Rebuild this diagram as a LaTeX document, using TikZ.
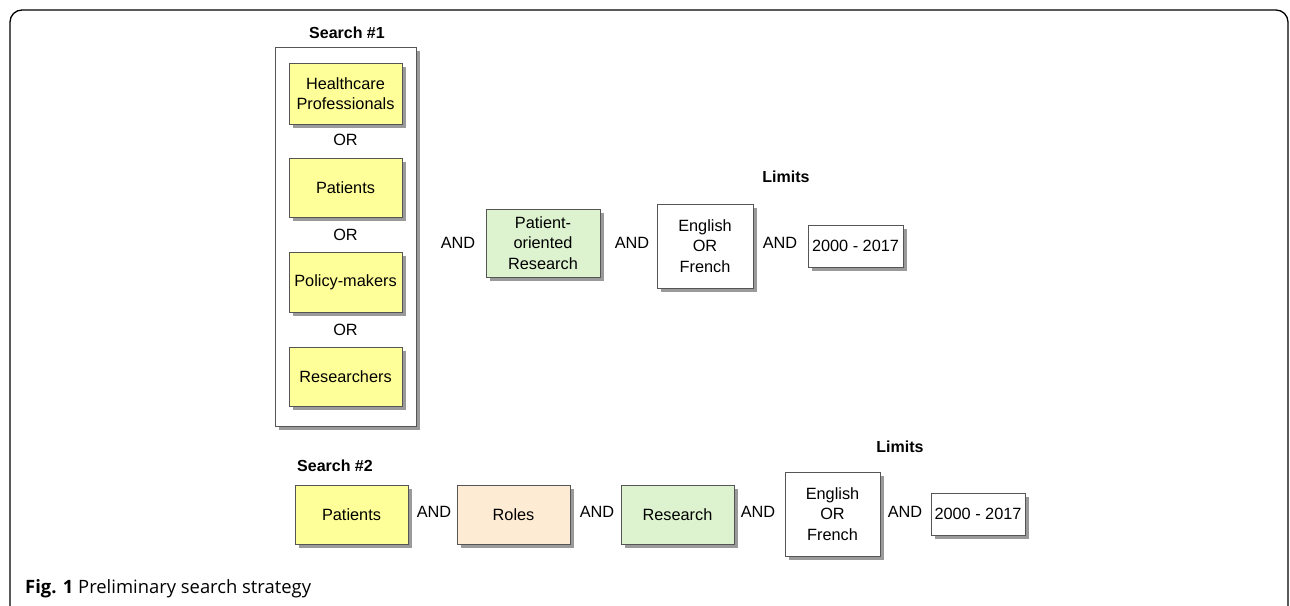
\documentclass[tikz,border=0pt]{standalone}
\usepackage{fontspec}
\setmainfont{Liberation Sans}
\newfontfamily\capfont{Open Sans}
\usetikzlibrary{shadows}
\definecolor{boxyellow}{HTML}{FFFF99}
\definecolor{boxgreen}{HTML}{DDF3D0}
\definecolor{boxpeach}{HTML}{FDEBD4}
\definecolor{boxline}{HTML}{555555}
\definecolor{shadowgray}{HTML}{9A9A9A}
\tikzset{
  box/.style={draw=boxline, line width=0.9pt, align=center, inner sep=0pt,
    font=\fontsize{16.3}{20.5}\selectfont,
    drop shadow={shadow xshift=4pt, shadow yshift=-4pt, fill=shadowgray, opacity=1}},
  yel/.style={box, fill=boxyellow},
  grn/.style={box, fill=boxgreen},
  pch/.style={box, fill=boxpeach},
  wht/.style={box, fill=white},
  lbl/.style={font=\fontsize{16.3}{18}\selectfont, inner sep=0pt},
  hdr/.style={font=\bfseries\fontsize{16}{18}\selectfont, inner sep=0pt},
}
\begin{document}
\begin{tikzpicture}[x=1pt,y=-1pt]
\useasboundingbox (0,0) rectangle (1290,605);
\begin{scope}
\clip (0,0) rectangle (1290,605);
\draw[line width=1.3pt, rounded corners=12pt] (10,10) rectangle (1288,620);
\end{scope}

% Search #1
\node[hdr] (s1) at (347,33) {Search \#1};
\node[wht, minimum width=141pt, minimum height=379pt] (frame1) at (345.5,236.5) {};
\node[yel, minimum width=113pt, minimum height=61pt] (hcp) at (345.5,93.5) {Healthcare\\Professionals};
\node[lbl] (or1) at (345.5,140) {OR};
\node[yel, minimum width=113pt, minimum height=59pt] (pat1) at (345.5,187.5) {Patients};
\node[lbl] (or2) at (345.5,234.5) {OR};
\node[yel, minimum width=113pt, minimum height=60pt] (pol) at (345.5,282) {Policy-makers};
\node[lbl] (or3) at (345.5,329.5) {OR};
\node[yel, minimum width=113pt, minimum height=59pt] (res1) at (345.5,376.5) {Researchers};

\node[lbl] (and1) at (458,243) {AND};
\node[grn, minimum width=114pt, minimum height=68pt] (por) at (543,243) {Patient-\\oriented\\Research};
\node[lbl] (and2) at (632,243) {AND};
\node[wht, minimum width=96pt, minimum height=84pt] (lang1) at (705,246) {English\\OR\\French};
\node[hdr] (lim1) at (786,177) {Limits};
\node[lbl] (and3) at (780,243) {AND};
\node[wht, minimum width=95pt, minimum height=42pt] (yr1) at (855.5,246) {2000 - 2017};

% Search #2
\node[hdr] (s2) at (335,466) {Search \#2};
\node[yel, minimum width=113pt, minimum height=59pt] (pat2) at (351.5,514.5) {Patients};
\node[lbl] (and4) at (434,512) {AND};
\node[pch, minimum width=113pt, minimum height=59pt] (rol) at (513.5,514.5) {Roles};
\node[lbl] (and5) at (597,512) {AND};
\node[grn, minimum width=113pt, minimum height=59pt] (res2) at (677.5,514.5) {Research};
\node[lbl] (and6) at (758,512) {AND};
\node[wht, minimum width=95pt, minimum height=84pt] (lang2) at (832.5,514) {English\\OR\\French};
\node[hdr] (lim2) at (900,447) {Limits};
\node[lbl] (and7) at (905,512) {AND};
\node[wht, minimum width=94pt, minimum height=42pt] (yr2) at (978,514) {2000 - 2017};

% Caption
\node[anchor=base west, inner sep=0pt, font=\capfont\fontsize{18.4}{22}\selectfont] (cap) at (25,593) {\textbf{Fig. 1} Preliminary search strategy};
\end{tikzpicture}
\end{document}
